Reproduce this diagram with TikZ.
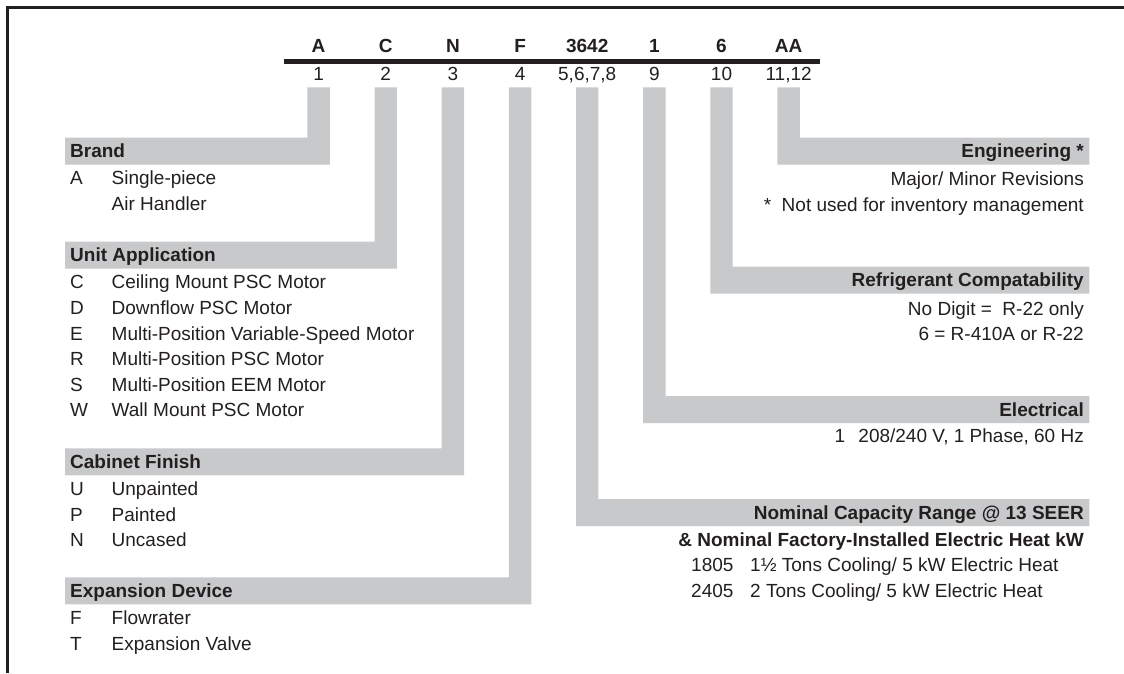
\documentclass[tikz,border=0pt]{standalone}
\usepackage{fontspec}
\setmainfont{Liberation Sans}
\definecolor{bandgray}{RGB}{200,201,203}
\definecolor{ink}{RGB}{35,31,32}
\tikzset{
  hd/.style={font=\fontsize{19}{22}\selectfont\bfseries, text=ink, inner sep=0pt},
  tx/.style={font=\fontsize{19}{22}\selectfont, text=ink, inner sep=0pt},
  bandfill/.style={fill=bandgray},
  frameline/.style={draw=ink, line width=2.6pt},
  codeline/.style={draw=ink, line width=4.6pt},
}
\begin{document}
\begin{tikzpicture}[x=1pt,y=-1pt]
\useasboundingbox (0,0) rectangle (1124,673);
% frame
\draw[frameline] (7.5,673) -- (7.5,7.5) -- (1124,7.5);
% code row
\coordinate (cl) at (284,61.7);
\coordinate (cr) at (820,61.7);
\draw[codeline] (cl) -- (cr);
\foreach \ii/\ltr/\dig [count=\kk from 0] in {1/A/1,2/C/2,3/N/3,4/F/4,5/3642/{5,6,7,8},6/1/9,7/6/10,8/AA/{11,12}}{
  \pgfmathsetmacro{\cx}{318.6+67.15*\kk}
  \node[hd, anchor=base] (L\ii) at (\cx,52.7) {\ltr};
  \node[tx, anchor=base] (D\ii) at (\cx,80.2) {\dig};
}
% left L-shapes: bar i, band top
\foreach \ii/\tp in {1/137.7,2/241.7,3/448.3,4/577.3}{
  \pgfmathsetmacro{\xl}{307.4+67.15*(\ii-1)}
  \pgfmathsetmacro{\xr}{\xl+22.4}
  \pgfmathsetmacro{\bb}{\tp+27}
  \fill[bandfill] (\xl,87.3) -- (\xr,87.3) -- (\xr,\bb) -- (65,\bb) -- (65,\tp) -- (\xl,\tp) -- cycle;
}
% right L-shapes
\foreach \ii/\tp in {5/499,6/396,7/266.7,8/137.7}{
  \pgfmathsetmacro{\xl}{307.4+67.15*(\ii-1)}
  \pgfmathsetmacro{\xr}{\xl+22.4}
  \pgfmathsetmacro{\bb}{\tp+27}
  \fill[bandfill] (\xl,87.3) -- (\xr,87.3) -- (\xr,\tp) -- (1089.3,\tp) -- (1089.3,\bb) -- (\xl,\bb) -- cycle;
}
% ---------- left headers and rows ----------
\node[hd, anchor=base west] (hBrand) at (70,157.9) {Brand};
\node[tx, anchor=base west] (bA) at (70,184.9) {A};
\node[tx, anchor=base west] (bAt) at (111.5,184.9) {Single-piece};
\node[tx, anchor=base west] (bAt2) at (111.5,210.5) {Air Handler};
\node[hd, anchor=base west] (hUnit) at (70,261.9) {Unit Application};
\foreach \nn/\ltr/\txt in {0/C/Ceiling Mount PSC Motor,1/D/Downflow PSC Motor,2/E/Multi-Position Variable-Speed Motor,3/R/Multi-Position PSC Motor,4/S/Multi-Position EEM Motor,5/W/Wall Mount PSC Motor}{
  \node[tx, anchor=base west] (u\ltr) at (70,288.9+25.6*\nn) {\ltr};
  \node[tx, anchor=base west] (ut\ltr) at (111.5,288.9+25.6*\nn) {\txt};
}
\node[hd, anchor=base west] (hCab) at (70,468.5) {Cabinet Finish};
\foreach \nn/\ltr/\txt in {0/U/Unpainted,1/P/Painted,2/N/Uncased}{
  \node[tx, anchor=base west] (c\ltr) at (70,495.5+25.6*\nn) {\ltr};
  \node[tx, anchor=base west] (ct\ltr) at (111.5,495.5+25.6*\nn) {\txt};
}
\node[hd, anchor=base west] (hExp) at (70,597.5) {Expansion Device};
\foreach \nn/\ltr/\txt in {0/F/Flowrater,1/T/Expansion Valve}{
  \node[tx, anchor=base west] (e\ltr) at (70,624.5+25.6*\nn) {\ltr};
  \node[tx, anchor=base west] (et\ltr) at (111.5,624.5+25.6*\nn) {\txt};
}
% ---------- right headers and rows ----------
\node[hd, anchor=base east] (hEng) at (1084,157.9) {Engineering *};
\node[tx, anchor=base east] (eng1) at (1084,185.4) {Major/ Minor Revisions};
\node[tx, anchor=base east] (eng2) at (1084,211.0) {*\ \ Not used for inventory management};
\node[hd, anchor=base east] (hRef) at (1084,286.9) {Refrigerant Compatability};
\node[tx, anchor=base east] (ref1) at (1084,315.0) {No Digit =\ \ R-22 only};
\node[tx, anchor=base east] (ref2) at (1084,340.6) {6 = R-410A or R-22};
\node[hd, anchor=base east] (hEl) at (1084,416.2) {Electrical};
\node[tx, anchor=base west] (el1) at (834.5,442.0) {1};
\node[tx, anchor=base east] (el1t) at (1084,442.0) {208/240 V, 1 Phase, 60 Hz};
\node[hd, anchor=base east] (hNom) at (1084,519.2) {Nominal Capacity Range @ 13 SEER};
\node[hd, anchor=base east] (hNom2) at (1084,546.2) {\& Nominal Factory-Installed Electric Heat kW};
\node[tx, anchor=base west] (n1) at (691,571.8) {1805};
\node[tx, anchor=base west] (n1t) at (750,571.8) {1½ Tons Cooling/ 5 kW Electric Heat};
\node[tx, anchor=base west] (n2) at (691,597.4) {2405};
\node[tx, anchor=base west] (n2t) at (750,597.4) {2 Tons Cooling/ 5 kW Electric Heat};
\end{tikzpicture}
\end{document}
